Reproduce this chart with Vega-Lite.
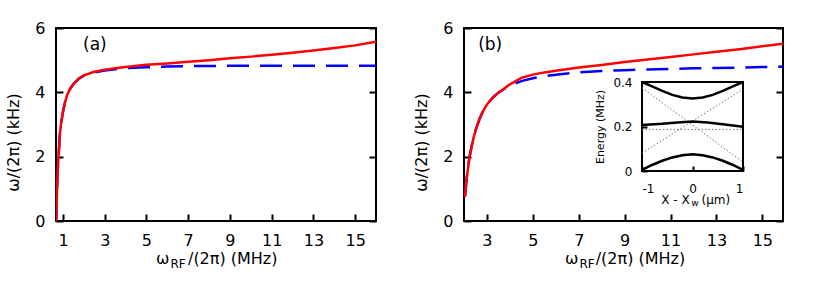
{
  "$schema": "https://vega.github.io/schema/vega-lite/v6.json",
  "padding": {"left": 4, "top": 19, "right": 0, "bottom": 0},
  "background": "white",
  "config": {
    "font": "DejaVu Sans",
    "view": {"stroke": "black", "strokeWidth": 2},
    "axis": {
      "labelFontSize": 16, "titleFontSize": 16, "titleFontWeight": "normal",
      "labelColor": "black", "titleColor": "black", "tickColor": "black",
      "domain": false, "grid": false, "tickWidth": 2, "tickSize": -7, "labelPadding": 18
    }
  },
  "datasets": {
    "a": [
      {"f": 0.68, "w": 0.0, "curve": "full"}, {"f": 0.70, "w": 0.6, "curve": "full"}, {"f": 0.72, "w": 1.1, "curve": "full"},
      {"f": 0.75, "w": 1.6, "curve": "full"}, {"f": 0.80, "w": 2.15, "curve": "full"}, {"f": 0.85, "w": 2.7, "curve": "full"},
      {"f": 0.90, "w": 3.0, "curve": "full"}, {"f": 1.0, "w": 3.4, "curve": "full"}, {"f": 1.1, "w": 3.7, "curve": "full"},
      {"f": 1.2, "w": 3.92, "curve": "full"}, {"f": 1.35, "w": 4.12, "curve": "full"}, {"f": 1.5, "w": 4.26, "curve": "full"},
      {"f": 1.75, "w": 4.42, "curve": "full"}, {"f": 2.0, "w": 4.53, "curve": "full"}, {"f": 2.5, "w": 4.64, "curve": "full"},
      {"f": 3.0, "w": 4.7, "curve": "full"}, {"f": 3.5, "w": 4.75, "curve": "full"}, {"f": 4.0, "w": 4.79, "curve": "full"},
      {"f": 5.0, "w": 4.86, "curve": "full"}, {"f": 6.0, "w": 4.9, "curve": "full"}, {"f": 7.0, "w": 4.95, "curve": "full"},
      {"f": 8.0, "w": 5.0, "curve": "full"}, {"f": 9.0, "w": 5.06, "curve": "full"}, {"f": 10.0, "w": 5.11, "curve": "full"},
      {"f": 11.0, "w": 5.17, "curve": "full"}, {"f": 12.0, "w": 5.23, "curve": "full"}, {"f": 13.0, "w": 5.3, "curve": "full"},
      {"f": 14.0, "w": 5.38, "curve": "full"}, {"f": 15.0, "w": 5.46, "curve": "full"}, {"f": 16.0, "w": 5.57, "curve": "full"},
      {"f": 0.68, "w": 0.0, "curve": "approx"}, {"f": 0.70, "w": 0.6, "curve": "approx"}, {"f": 0.72, "w": 1.1, "curve": "approx"},
      {"f": 0.75, "w": 1.6, "curve": "approx"}, {"f": 0.80, "w": 2.15, "curve": "approx"}, {"f": 0.85, "w": 2.7, "curve": "approx"},
      {"f": 0.90, "w": 3.0, "curve": "approx"}, {"f": 1.0, "w": 3.4, "curve": "approx"}, {"f": 1.1, "w": 3.7, "curve": "approx"},
      {"f": 1.2, "w": 3.92, "curve": "approx"}, {"f": 1.35, "w": 4.12, "curve": "approx"}, {"f": 1.5, "w": 4.26, "curve": "approx"},
      {"f": 1.75, "w": 4.42, "curve": "approx"}, {"f": 2.0, "w": 4.52, "curve": "approx"}, {"f": 2.5, "w": 4.62, "curve": "approx"},
      {"f": 3.0, "w": 4.68, "curve": "approx"}, {"f": 3.5, "w": 4.72, "curve": "approx"}, {"f": 4.0, "w": 4.75, "curve": "approx"},
      {"f": 5.0, "w": 4.78, "curve": "approx"}, {"f": 6.0, "w": 4.8, "curve": "approx"}, {"f": 7.0, "w": 4.815, "curve": "approx"},
      {"f": 8.0, "w": 4.82, "curve": "approx"}, {"f": 10.0, "w": 4.83, "curve": "approx"}, {"f": 12.0, "w": 4.83, "curve": "approx"},
      {"f": 14.0, "w": 4.83, "curve": "approx"}, {"f": 16.0, "w": 4.83, "curve": "approx"}
    ],
    "b": [
      {"f": 2.04, "w": 0.75, "curve": "full"}, {"f": 2.08, "w": 1.05, "curve": "full"}, {"f": 2.12, "w": 1.35, "curve": "full"},
      {"f": 2.17, "w": 1.6, "curve": "full"}, {"f": 2.23, "w": 1.95, "curve": "full"}, {"f": 2.32, "w": 2.28, "curve": "full"},
      {"f": 2.42, "w": 2.6, "curve": "full"}, {"f": 2.54, "w": 2.9, "curve": "full"}, {"f": 2.68, "w": 3.18, "curve": "full"},
      {"f": 2.83, "w": 3.42, "curve": "full"}, {"f": 3.0, "w": 3.62, "curve": "full"}, {"f": 3.26, "w": 3.84, "curve": "full"},
      {"f": 3.5, "w": 3.99, "curve": "full"}, {"f": 4.0, "w": 4.25, "curve": "full"}, {"f": 4.5, "w": 4.45, "curve": "full"},
      {"f": 5.0, "w": 4.55, "curve": "full"}, {"f": 5.5, "w": 4.62, "curve": "full"}, {"f": 6.0, "w": 4.67, "curve": "full"},
      {"f": 7.0, "w": 4.77, "curve": "full"}, {"f": 8.0, "w": 4.85, "curve": "full"}, {"f": 9.0, "w": 4.94, "curve": "full"},
      {"f": 10.0, "w": 5.02, "curve": "full"}, {"f": 11.0, "w": 5.1, "curve": "full"}, {"f": 12.0, "w": 5.18, "curve": "full"},
      {"f": 13.0, "w": 5.26, "curve": "full"}, {"f": 14.0, "w": 5.34, "curve": "full"}, {"f": 15.0, "w": 5.43, "curve": "full"},
      {"f": 15.9, "w": 5.51, "curve": "full"},
      {"f": 2.04, "w": 0.75, "curve": "approx"}, {"f": 2.08, "w": 1.05, "curve": "approx"}, {"f": 2.12, "w": 1.35, "curve": "approx"},
      {"f": 2.17, "w": 1.6, "curve": "approx"}, {"f": 2.23, "w": 1.95, "curve": "approx"}, {"f": 2.32, "w": 2.28, "curve": "approx"},
      {"f": 2.42, "w": 2.6, "curve": "approx"}, {"f": 2.54, "w": 2.9, "curve": "approx"}, {"f": 2.68, "w": 3.18, "curve": "approx"},
      {"f": 2.83, "w": 3.42, "curve": "approx"}, {"f": 3.0, "w": 3.62, "curve": "approx"}, {"f": 3.26, "w": 3.84, "curve": "approx"},
      {"f": 3.5, "w": 3.99, "curve": "approx"}, {"f": 4.0, "w": 4.22, "curve": "approx"}, {"f": 4.5, "w": 4.35, "curve": "approx"},
      {"f": 5.0, "w": 4.44, "curve": "approx"}, {"f": 5.5, "w": 4.5, "curve": "approx"}, {"f": 6.0, "w": 4.55, "curve": "approx"},
      {"f": 7.0, "w": 4.62, "curve": "approx"}, {"f": 8.0, "w": 4.66, "curve": "approx"}, {"f": 9.0, "w": 4.69, "curve": "approx"},
      {"f": 10.0, "w": 4.71, "curve": "approx"}, {"f": 11.0, "w": 4.73, "curve": "approx"}, {"f": 12.0, "w": 4.745, "curve": "approx"},
      {"f": 13.0, "w": 4.76, "curve": "approx"}, {"f": 14.0, "w": 4.77, "curve": "approx"}, {"f": 15.0, "w": 4.785, "curve": "approx"},
      {"f": 15.9, "w": 4.8, "curve": "approx"}
    ],
    "inset": [
      {"x": -1.0, "E": 0.40, "level": "upper"}, {"x": -0.8, "E": 0.38, "level": "upper"}, {"x": -0.6, "E": 0.36, "level": "upper"},
      {"x": -0.4, "E": 0.342, "level": "upper"}, {"x": -0.2, "E": 0.330, "level": "upper"}, {"x": 0.0, "E": 0.326, "level": "upper"},
      {"x": 0.2, "E": 0.330, "level": "upper"}, {"x": 0.4, "E": 0.342, "level": "upper"}, {"x": 0.6, "E": 0.36, "level": "upper"},
      {"x": 0.8, "E": 0.38, "level": "upper"}, {"x": 1.0, "E": 0.40, "level": "upper"},
      {"x": -1.0, "E": 0.207, "level": "middle"}, {"x": -0.6, "E": 0.212, "level": "middle"}, {"x": -0.3, "E": 0.218, "level": "middle"},
      {"x": 0.0, "E": 0.222, "level": "middle"}, {"x": 0.3, "E": 0.218, "level": "middle"}, {"x": 0.6, "E": 0.21, "level": "middle"},
      {"x": 1.0, "E": 0.199, "level": "middle"},
      {"x": -1.0, "E": 0.005, "level": "lower"}, {"x": -0.8, "E": 0.027, "level": "lower"}, {"x": -0.6, "E": 0.046, "level": "lower"},
      {"x": -0.4, "E": 0.061, "level": "lower"}, {"x": -0.2, "E": 0.071, "level": "lower"}, {"x": 0.0, "E": 0.075, "level": "lower"},
      {"x": 0.2, "E": 0.071, "level": "lower"}, {"x": 0.4, "E": 0.061, "level": "lower"}, {"x": 0.6, "E": 0.046, "level": "lower"},
      {"x": 0.8, "E": 0.027, "level": "lower"}, {"x": 1.0, "E": 0.005, "level": "lower"}
    ],
    "diabatic": [
      {"x": -1.0, "E": 0.374, "level": "d1"}, {"x": 1.0, "E": 0.04, "level": "d1"},
      {"x": -1.0, "E": 0.08, "level": "d2"}, {"x": 1.0, "E": 0.368, "level": "d2"},
      {"x": -1.0, "E": 0.187, "level": "d3"}, {"x": 1.0, "E": 0.187, "level": "d3"}
    ]
  },
  "hconcat": [
    {
      "width": 320, "height": 193,
      "layer": [
        {
          "data": {"name": "a"},
          "transform": [{"filter": "datum.curve == 'approx'"}],
          "mark": {"type": "line", "color": "#0000ff", "strokeWidth": 2.5, "strokeDash": [22, 11], "clip": true},
          "encoding": {
            "x": {"field": "f", "type": "quantitative", "scale": {"domain": [0.665, 16], "nice": false, "zero": false},
                  "axis": {"orient": "bottom", "values": [1, 3, 5, 7, 9, 11, 13, 15], "title": null}},
            "y": {"field": "w", "type": "quantitative", "scale": {"domain": [0, 6], "nice": false, "zero": false},
                  "axis": {"orient": "right", "values": [0, 2, 4, 6], "labels": false, "title": null}}
          }
        },
        {
          "data": {"name": "a"},
          "transform": [{"filter": "datum.curve == 'full'"}],
          "mark": {"type": "line", "color": "#ff0000", "strokeWidth": 2.5, "clip": true},
          "encoding": {
            "x": {"field": "f", "type": "quantitative", "scale": {"domain": [0.665, 16], "nice": false, "zero": false},
                  "axis": {"orient": "bottom", "values": [1, 3, 5, 7, 9, 11, 13, 15], "title": null}},
            "y": {"field": "w", "type": "quantitative", "scale": {"domain": [0, 6], "nice": false, "zero": false},
                  "axis": {"orient": "left", "values": [0, 2, 4, 6], "title": "ω/(2π) (kHz)", "titleX": -35, "titleY": 114, "titleBaseline": "bottom"}}
          }
        },
        {
          "data": {"values": [{}]},
          "mark": {"type": "text", "text": "(a)", "fontSize": 17, "align": "center", "baseline": "middle"},
          "encoding": {
            "x": {"datum": 2.53, "type": "quantitative", "axis": {"orient": "bottom", "values": [1, 3, 5, 7, 9, 11, 13, 15], "title": null}},
            "y": {"datum": 5.47, "type": "quantitative", "axis": null}
          }
        },
        {
          "data": {"values": [{}]},
          "mark": {"type": "text", "text": "ω", "fontSize": 16, "align": "right", "baseline": "alphabetic"},
          "encoding": {
            "x": {"datum": 6.1, "type": "quantitative", "axis": {"orient": "bottom", "values": [1, 3, 5, 7, 9, 11, 13, 15], "title": null}},
            "y": {"datum": -1.352, "type": "quantitative", "axis": null}
          }
        },
        {
          "data": {"values": [{}]},
          "mark": {"type": "text", "text": "RF", "fontSize": 12, "align": "left", "baseline": "alphabetic"},
          "encoding": {
            "x": {"datum": 6.15, "type": "quantitative", "axis": {"orient": "bottom", "values": [1, 3, 5, 7, 9, 11, 13, 15], "title": null}},
            "y": {"datum": -1.461, "type": "quantitative", "axis": null}
          }
        },
        {
          "data": {"values": [{}]},
          "mark": {"type": "text", "text": "/(2π) (MHz)", "fontSize": 16, "align": "left", "baseline": "alphabetic"},
          "encoding": {
            "x": {"datum": 6.99, "type": "quantitative", "axis": {"orient": "bottom", "values": [1, 3, 5, 7, 9, 11, 13, 15], "title": null}},
            "y": {"datum": -1.352, "type": "quantitative", "axis": null}
          }
        }
      ],
      "resolve": {"axis": {"y": "independent"}}
    },
    {
      "width": 319, "height": 193,
      "layer": [
        {
          "layer": [
            {
              "data": {"name": "b"},
              "transform": [{"filter": "datum.curve == 'approx'"}],
              "mark": {"type": "line", "color": "#0000ff", "strokeWidth": 2.5, "strokeDash": [22, 11], "clip": true},
              "encoding": {
                "x": {"field": "f", "type": "quantitative", "scale": {"domain": [2.0, 15.9], "nice": false, "zero": false},
                      "axis": {"orient": "bottom", "values": [3, 5, 7, 9, 11, 13, 15], "title": null}},
                "y": {"field": "w", "type": "quantitative", "scale": {"domain": [0, 6], "nice": false, "zero": false},
                      "axis": {"orient": "right", "values": [0, 2, 4, 6], "labels": false, "title": null}}
              }
            },
            {
              "data": {"name": "b"},
              "transform": [{"filter": "datum.curve == 'full'"}],
              "mark": {"type": "line", "color": "#ff0000", "strokeWidth": 2.5, "clip": true},
              "encoding": {
                "x": {"field": "f", "type": "quantitative", "scale": {"domain": [2.0, 15.9], "nice": false, "zero": false},
                      "axis": {"orient": "bottom", "values": [3, 5, 7, 9, 11, 13, 15], "title": null}},
                "y": {"field": "w", "type": "quantitative", "scale": {"domain": [0, 6], "nice": false, "zero": false},
                      "axis": {"orient": "left", "values": [0, 2, 4, 6], "title": "ω/(2π) (kHz)", "titleX": -35, "titleY": 114, "titleBaseline": "bottom"}}
              }
            },
            {
              "data": {"values": [{}]},
              "mark": {"type": "text", "text": "(b)", "fontSize": 17, "align": "center", "baseline": "middle"},
              "encoding": {
                "x": {"datum": 3.14, "type": "quantitative", "axis": {"orient": "bottom", "values": [3, 5, 7, 9, 11, 13, 15], "title": null}},
                "y": {"datum": 5.47, "type": "quantitative", "axis": null}
              }
            },
            {
              "data": {"values": [{}]},
              "mark": {"type": "text", "text": "ω", "fontSize": 16, "align": "right", "baseline": "alphabetic"},
              "encoding": {
                "x": {"datum": 6.98, "type": "quantitative", "axis": {"orient": "bottom", "values": [3, 5, 7, 9, 11, 13, 15], "title": null}},
                "y": {"datum": -1.352, "type": "quantitative", "axis": null}
              }
            },
            {
              "data": {"values": [{}]},
              "mark": {"type": "text", "text": "RF", "fontSize": 12, "align": "left", "baseline": "alphabetic"},
              "encoding": {
                "x": {"datum": 7.03, "type": "quantitative", "axis": {"orient": "bottom", "values": [3, 5, 7, 9, 11, 13, 15], "title": null}},
                "y": {"datum": -1.461, "type": "quantitative", "axis": null}
              }
            },
            {
              "data": {"values": [{}]},
              "mark": {"type": "text", "text": "/(2π) (MHz)", "fontSize": 16, "align": "left", "baseline": "alphabetic"},
              "encoding": {
                "x": {"datum": 7.74, "type": "quantitative", "axis": {"orient": "bottom", "values": [3, 5, 7, 9, 11, 13, 15], "title": null}},
                "y": {"datum": -1.352, "type": "quantitative", "axis": null}
              }
            }
          ],
          "resolve": {"axis": {"y": "independent"}}
        },
        {
          "layer": [
            {
              "data": {"values": [{}]},
              "mark": {"type": "rect", "fill": "white", "stroke": "black", "strokeWidth": 2},
              "encoding": {
                "x": {"datum": -1, "type": "quantitative", "scale": {"domain": [-1, 1], "range": [178, 279], "nice": false, "zero": false},
                      "axis": {"orient": "bottom", "offset": -50, "values": [-1, 0, 1], "format": "~g", "labelExpr": "replace(datum.label, '−', '-')",
                               "title": null, "labelFontSize": 12, "tickSize": -5, "labelPadding": 17, "zindex": 1}},
                "x2": {"datum": 1},
                "y": {"datum": 0, "type": "quantitative", "scale": {"domain": [0, 0.4], "range": [143, 54], "nice": false, "zero": false},
                      "axis": {"orient": "left", "offset": -178, "values": [0, 0.2, 0.4], "format": "~g",
                               "title": "Energy (MHz)", "titleFontSize": 11, "labelFontSize": 12, "tickSize": -5, "labelPadding": 15,
                               "titleX": -37, "titleBaseline": "bottom", "zindex": 1}},
                "y2": {"datum": 0.4}
              }
            },
            {
              "data": {"name": "diabatic"},
              "mark": {"type": "line", "color": "#777777", "strokeWidth": 1, "strokeDash": [1.5, 2]},
              "encoding": {
                "x": {"field": "x", "type": "quantitative"},
                "y": {"field": "E", "type": "quantitative"},
                "detail": {"field": "level"}
              }
            },
            {
              "data": {"name": "inset"},
              "mark": {"type": "line", "color": "black", "strokeWidth": 2.5},
              "encoding": {
                "x": {"field": "x", "type": "quantitative"},
                "y": {"field": "E", "type": "quantitative"},
                "detail": {"field": "level"}
              }
            },
            {
              "data": {"values": [{}]},
              "mark": {"type": "text", "text": "X - X", "fontSize": 12, "align": "right", "baseline": "alphabetic"},
              "encoding": {
                "x": {"datum": -0.055, "type": "quantitative"},
                "y": {"datum": -0.148, "type": "quantitative"}
              }
            },
            {
              "data": {"values": [{}]},
              "mark": {"type": "text", "text": "w", "fontSize": 9, "align": "left", "baseline": "alphabetic"},
              "encoding": {
                "x": {"datum": -0.025, "type": "quantitative"},
                "y": {"datum": -0.157, "type": "quantitative"}
              }
            },
            {
              "data": {"values": [{}]},
              "mark": {"type": "text", "text": "(μm)", "fontSize": 12, "align": "left", "baseline": "alphabetic"},
              "encoding": {
                "x": {"datum": 0.178, "type": "quantitative"},
                "y": {"datum": -0.148, "type": "quantitative"}
              }
            }
          ]
        }
      ],
      "resolve": {"scale": {"x": "independent", "y": "independent"}}
    }
  ],
  "spacing": 88,
  "bounds": "flush"
}
